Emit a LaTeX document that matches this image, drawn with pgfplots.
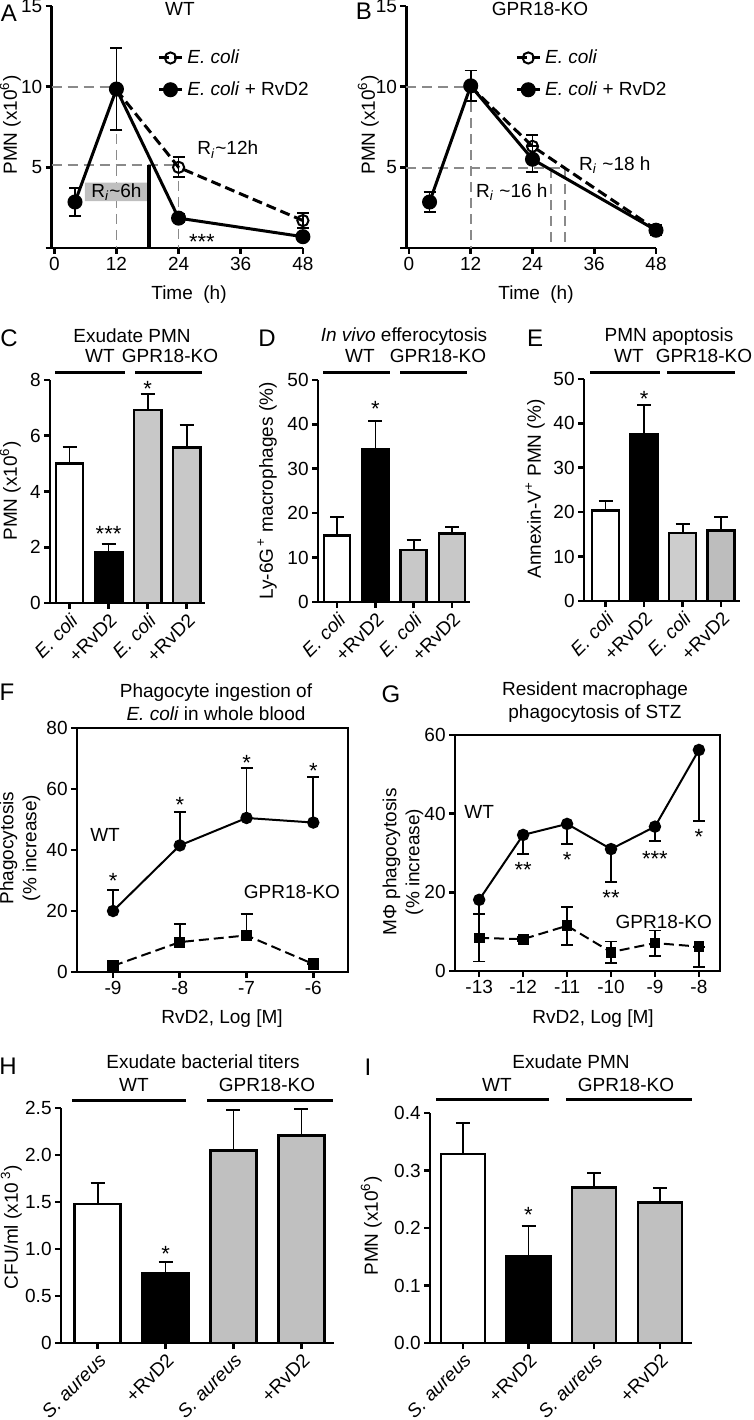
\documentclass[border=0pt]{standalone}
\usepackage{pgfplots}
\pgfplotsset{compat=1.18}
\usepackage{fontspec}
\setmainfont{Liberation Sans}
\definecolor{lg}{HTML}{C8C8C8}
\definecolor{lg2}{HTML}{CDCDCD}
\definecolor{mg}{HTML}{BDBDBD}
\definecolor{hg}{HTML}{C0C0C0}
\definecolor{refg}{HTML}{8A8A8A}
\definecolor{boxg}{HTML}{BFBFBF}
\pgfplotsset{
  every axis/.append style={
    scale only axis, anchor=south west,
    tick align=outside, major tick length=3pt,
    axis line style={line width=1.3pt},
    tick style={line width=1.3pt, black},
    tick label style={font=\fontsize{9.5}{11}\selectfont, inner sep=1.5pt},
    /pgf/number format/assume math mode=true,
    clip=false,
  },
  ebs/.style={/pgfplots/error bars/y explicit,
    /pgfplots/error bars/error bar style={line width=0.9pt, black, solid},
    /pgfplots/error bars/error mark options={rotate=90, line width=0.9pt, mark size=#1, black, solid}},
  refl/.style={refg, line width=0.9pt, dash pattern=on 5pt off 3pt},
  barax/.style={axis lines*=left, ybar, bar width=#1, bar shift=0pt, xtick={0,1,2,3},
    xticklabel style={rotate=45, anchor=north east, inner sep=1pt}},
  bb/.style={draw=black, line width=1.3pt, fill=#1, ebs=3.5pt, /pgfplots/error bars/y dir=plus},
  legstyle/.style={legend style={draw=none, fill=none, font=\fontsize{9.5}{11}\selectfont, row sep=3.5pt, inner sep=0pt, cells={anchor=west}},
    legend image code/.code={\draw[mark repeat=2,mark phase=2,##1] plot coordinates {(0cm,0cm) (0.2cm,0cm) (0.4cm,0cm)};}},
}
\begin{document}
\begin{tikzpicture}[x=0.5pt,y=0.5pt,
  t/.style={inner sep=0pt, font=\fontsize{9.5}{11}\selectfont, text height=6.8pt, text depth=0pt},
  tt/.style={inner sep=0pt, font=\fontsize{9.5}{11.5}\selectfont, align=center},
  pl/.style={inner sep=0pt, font=\fontsize{12}{14}\selectfont, text height=8.6pt, text depth=0pt},
  gl/.style={line width=1.5pt},
  st/.style={font=\fontsize{11}{11}\selectfont, inner sep=0pt, anchor=base, yshift=-5.4pt},
  ri/.style={inner sep=0pt, font=\fontsize{9.5}{11}\selectfont},
]
\useasboundingbox (0,0) rectangle (754,1420);

% ---------------- A ----------------
\begin{axis}[at={(25.85pt,586pt)}, width=125.6pt, height=121pt,
  xmin=-0.5, xmax=48, ymin=0, ymax=15, axis lines*=left,
  xtick={0,12,24,36,48}, ytick={0,5,10,15}, yticklabels={,5,10,15},
  legstyle, legend style={at={(0.42,0.838)}, anchor=north west}]
\addplot[forget plot, refl] coordinates {(-0.5,10) (12,10) (12,0)};
\addplot[forget plot, refl] coordinates {(-0.5,5.15) (24,5.15)};
\addplot[forget plot, refl] coordinates {(24,5.15) (24,0)};
\addplot[forget plot, fill=boxg, draw=none] coordinates {(5.9,2.9) (18,2.9) (18,4.05) (5.9,4.05) (5.9,2.9)};
\addplot[forget plot, black, line width=2pt] coordinates {(18.2,0) (18.2,5.15)};
\addplot[black, line width=1.5pt, dash pattern=on 5pt off 2.5pt, mark=o, mark size=2.8pt,
  mark options={solid, fill=white, line width=1pt}, ebs=3pt, /pgfplots/error bars/y dir=both]
  coordinates {(12,9.8) (24,5.0) +- (0,0.62) (48,1.7) +- (0,0.45)};
\addlegendentry{\textit{E. coli}}
\addplot[black, line width=1.5pt, mark=*, mark size=3pt, ebs=3pt, /pgfplots/error bars/y dir=both]
  coordinates {(4,2.85) +- (0,0.85) (12,9.85) +- (0,2.55) (24,1.85) +- (0,0.25) (48,0.7) +- (0,0.1)};
\addlegendentry{\textit{E. coli} + RvD2}
\node[ri] at (axis cs:12,3.45) {R\textsubscript{\textit{i}}\textasciitilde 6h};
\node[ri] at (axis cs:33.5,6.1) {R\textsubscript{\textit{i}}\textasciitilde 12h};
\node[st] at (axis cs:28.5,0.6) {***};
\end{axis}

% ---------------- B ----------------
\begin{axis}[at={(203.2pt,586pt)}, width=124.8pt, height=121pt,
  xmin=-0.5, xmax=48, ymin=0, ymax=15, axis lines*=left,
  xtick={0,12,24,36,48}, ytick={0,5,10,15}, yticklabels={,5,10,15},
  legstyle, legend style={at={(0.435,0.838)}, anchor=north west}]
\addplot[forget plot, refl] coordinates {(-0.5,10) (12,10) (12,0)};
\addplot[forget plot, refl] coordinates {(-0.5,4.95) (30.3,4.95)};
\addplot[forget plot, refl] coordinates {(27.6,4.95) (27.6,0)};
\addplot[forget plot, refl] coordinates {(30.3,4.95) (30.3,0)};
\addplot[black, line width=1.5pt, dash pattern=on 5pt off 2.5pt, mark=o, mark size=2.8pt,
  mark options={solid, fill=white, line width=1pt}, ebs=3pt, /pgfplots/error bars/y dir=both]
  coordinates {(12,10.0) (24,6.3) +- (0,0.7) (48,1.15) +- (0,0.3)};
\addlegendentry{\textit{E. coli}}
\addplot[black, line width=1.5pt, mark=*, mark size=3pt, ebs=3pt, /pgfplots/error bars/y dir=both]
  coordinates {(4,2.85) +- (0,0.6) (12,10.05) +- (0,0.95) (24,5.5) +- (0,0.8) (48,1.1) +- (0,0.3)};
\addlegendentry{\textit{E. coli} + RvD2}
\node[ri] at (axis cs:20,3.47) {R\textsubscript{\textit{i}} \textasciitilde 16 h};
\node[ri] at (axis cs:40,5.15) {R\textsubscript{\textit{i}} \textasciitilde 18 h};
\end{axis}

% ---------------- C ----------------
\begin{axis}[at={(25pt,408.5pt)}, width=77.5pt, height=111.5pt, barax=0.7,
  xmin=-0.5, xmax=3.47, ymin=0, ymax=8, ytick={0,2,4,6,8},
  xticklabels={\textit{E. coli},+RvD2,\textit{E. coli},+RvD2}]
\addplot[bb=white] coordinates {(0,5.0) +- (0,0.6)};
\addplot[bb=black] coordinates {(1,1.83) +- (0,0.3)};
\addplot[bb=lg] coordinates {(2,6.92) +- (0,0.58)};
\addplot[bb=lg] coordinates {(3,5.58) +- (0,0.8)};
\node[st] at (axis cs:1,2.6) {***};
\node[st] at (axis cs:2,7.8) {*};
\end{axis}

% ---------------- D ----------------
\begin{axis}[at={(159pt,409pt)}, width=76pt, height=111pt, barax=0.68,
  xmin=-0.5, xmax=3.47, ymin=0, ymax=50, ytick={0,10,20,30,40,50},
  xticklabels={\textit{E. coli},+RvD2,\textit{E. coli},+RvD2}]
\addplot[bb=white] coordinates {(0,15.0) +- (0,4.2)};
\addplot[bb=black] coordinates {(1,34.5) +- (0,6.2)};
\addplot[bb=lg] coordinates {(2,11.7) +- (0,2.2)};
\addplot[bb=lg] coordinates {(3,15.4) +- (0,1.5)};
\node[st] at (axis cs:1,44.2) {*};
\end{axis}

% ---------------- E ----------------
\begin{axis}[at={(292pt,409.5pt)}, width=78pt, height=111pt, barax=0.7,
  xmin=-0.56, xmax=3.49, ymin=0, ymax=50, ytick={0,10,20,30,40,50},
  xticklabels={\textit{E. coli},+RvD2,\textit{E. coli},+RvD2}]
\addplot[bb=white] coordinates {(0,20.4) +- (0,2.1)};
\addplot[bb=black] coordinates {(1,37.6) +- (0,6.6)};
\addplot[bb=lg2] coordinates {(2,15.3) +- (0,2.0)};
\addplot[bb=mg] coordinates {(3,15.9) +- (0,3.0)};
\node[st] at (axis cs:1,46.2) {*};
\end{axis}

% ---------------- F ----------------
\begin{axis}[at={(38.5pt,224pt)}, width=135.5pt, height=122pt,
  xmin=-9.54, xmax=-5.48, ymin=0, ymax=80,
  xtick={-9,-8,-7,-6}, xticklabels={-9,-8,-7,-6},
  ytick={0,20,40,60,80}, tick pos=left]
\addplot[black, line width=1pt, mark=*, mark size=2.6pt, ebs=3pt, /pgfplots/error bars/y dir=plus]
  coordinates {(-9,20) +- (0,7) (-8,41.5) +- (0,11) (-7,50.5) +- (0,16.5) (-6,49) +- (0,15)};
\addplot[black, line width=1pt, dash pattern=on 5pt off 2.5pt, mark=square*, mark size=2.3pt,
  mark options={solid}, ebs=3pt, /pgfplots/error bars/y dir=plus]
  coordinates {(-9,2) +- (0,1.6) (-8,9.8) +- (0,6) (-7,12) +- (0,7) (-6,2.6) +- (0,0)};
\node[st] at (axis cs:-9,30.8) {*};
\node[st] at (axis cs:-8,55.7) {*};
\node[st] at (axis cs:-7,69.5) {*};
\node[st] at (axis cs:-6,67) {*};
\node[t] at (axis cs:-9.12,44.9) {WT};
\node[t] at (axis cs:-6.32,26.2) {GPR18-KO};
\end{axis}

% ---------------- G ----------------
\begin{axis}[at={(227.5pt,224.5pt)}, width=132.5pt, height=118pt,
  xmin=-13.55, xmax=-7.52, ymin=0, ymax=60,
  xtick={-13,-12,-11,-10,-9,-8}, xticklabels={-13,-12,-11,-10,-9,-8},
  ytick={0,20,40,60}, tick pos=left]
\addplot[black, line width=1pt, mark=*, mark size=2.6pt, ebs=3pt, /pgfplots/error bars/y dir=minus]
  coordinates {(-13,18.1) +- (0,15.7) (-12,34.6) +- (0,4.8) (-11,37.4) +- (0,5.1) (-10,31.0) +- (0,8.4) (-9,36.7) +- (0,3.6) (-8,56.2) +- (0,18)};
\addplot[black, line width=1pt, dash pattern=on 5pt off 2.5pt, mark=square*, mark size=2.2pt,
  mark options={solid}, ebs=3pt, /pgfplots/error bars/y dir=both]
  coordinates {(-13,8.4) +- (0,6) (-12,8.1) +- (0,0.5) (-11,11.5) +- (0,4.8) (-10,4.8) +- (0,2.7) (-9,7.1) +- (0,3.2) (-8,6.2) += (0,0) -= (0,5.1)};
\node[st] at (axis cs:-12,26.5) {**};
\node[st] at (axis cs:-11,29) {*};
\node[st] at (axis cs:-10,19.3) {**};
\node[st] at (axis cs:-9,29.3) {***};
\node[st] at (axis cs:-8,34.9) {*};
\node[t] at (axis cs:-13,40.5) {WT};
\node[t] at (axis cs:-8.8,12.5) {GPR18-KO};
\end{axis}

% ---------------- H ----------------
\begin{axis}[at={(30.5pt,38.5pt)}, width=136.5pt, height=117.5pt, barax=0.68,
  xmin=-0.54, xmax=3.48, ymin=0, ymax=2.5,
  ytick={0,0.5,1,1.5,2,2.5}, yticklabels={0,0.5,1.0,1.5,2.0,2.5},
  xticklabels={\textit{S. aureus},+RvD2,\textit{S. aureus},+RvD2}]
\addplot[bb=white] coordinates {(0,1.48) +- (0,0.22)};
\addplot[bb=black] coordinates {(1,0.74) +- (0,0.12)};
\addplot[bb=hg] coordinates {(2,2.05) +- (0,0.43)};
\addplot[bb=hg] coordinates {(3,2.21) +- (0,0.28)};
\node[st] at (axis cs:1,0.98) {*};
\end{axis}

% ---------------- I ----------------
\begin{axis}[at={(215pt,38.5pt)}, width=131pt, height=115pt, barax=0.67,
  xmin=-0.5, xmax=3.49, ymin=0, ymax=0.4,
  ytick={0,0.1,0.2,0.3,0.4}, yticklabels={0.0,0.1,0.2,0.3,0.4},
  xticklabels={\textit{S. aureus},+RvD2,\textit{S. aureus},+RvD2}]
\addplot[bb=white] coordinates {(0,0.329) +- (0,0.054)};
\addplot[bb=black] coordinates {(1,0.150) +- (0,0.053)};
\addplot[bb=hg] coordinates {(2,0.270) +- (0,0.025)};
\addplot[bb=hg] coordinates {(3,0.244) +- (0,0.026)};
\node[st] at (axis cs:1,0.228) {*};
\end{axis}

% ---------------- text ----------------
\node[pl] at (9,1407) {A};
\node[pl] at (364,1409) {B};
\node[pl] at (9,1082) {C};
\node[pl] at (267,1082) {D};
\node[pl] at (535,1082) {E};
\node[pl] at (7,728) {F};
\node[pl] at (391,726) {G};
\node[pl] at (8,354) {H};
\node[pl] at (368,353) {I};

\node[t] at (180,1411) {WT};
\node[t] at (540,1411) {GPR18-KO};
\node[t, rotate=90] at (10,1295) {PMN (x10\textsuperscript{6})};
\node[t, rotate=90] at (368,1295) {PMN (x10\textsuperscript{6})};
\node[t] at (189,1127) {Time\ \ (h)};
\node[t] at (536,1127) {Time\ \ (h)};

\node[t] at (132,1084) {Exudate PMN};
\node[t] at (100,1064) {WT};
\node[t] at (170,1064) {GPR18-KO};
\draw[gl] (55,1047) -- (125,1047);
\draw[gl] (135,1047) -- (202,1047);
\node[t, rotate=90] at (10,929) {PMN (x10\textsuperscript{6})};

\node[t] at (404,1085) {\textit{In vivo} efferocytosis};
\node[t] at (360,1064) {WT};
\node[t] at (438,1064) {GPR18-KO};
\draw[gl] (323,1047) -- (390,1047);
\draw[gl] (400,1047) -- (467,1047);
\node[t, rotate=90] at (266,929) {Ly-6G\textsuperscript{\,+} macrophages (\%)};

\node[t] at (669,1085) {PMN apoptosis};
\node[t] at (629,1064) {WT};
\node[t] at (704,1064) {GPR18-KO};
\draw[gl] (590,1047) -- (660,1047);
\draw[gl] (667,1047) -- (735,1047);
\node[t, rotate=90] at (534,931) {Annexin-V\textsuperscript{+} PMN (\%)};

\node[tt] at (216,717.5) {Phagocyte ingestion of\\\textit{E. coli} in whole blood};
\node[tt] at (595,717.5) {Resident macrophage\\phagocytosis of STZ};
\node[tt, rotate=90] at (20,572) {Phagocytosis\\(\% increase)};
\node[tt, rotate=90] at (403,558) {MΦ phagocytosis\\(\% increase)};
\node[t] at (222,403) {RvD2, Log [M]};
\node[t] at (593,403) {RvD2, Log [M]};

\node[t] at (203,358) {Exudate bacterial titers};
\node[t] at (134,335) {WT};
\node[t] at (267,335) {GPR18-KO};
\draw[gl] (72,319) -- (186,319);
\draw[gl] (207,319) -- (333,319);
\node[t, rotate=90] at (11,193) {CFU/ml (x10\,\textsuperscript{3})};

\node[t] at (571,358) {Exudate PMN};
\node[t] at (497,335) {WT};
\node[t] at (626,335) {GPR18-KO};
\draw[gl] (436,320) -- (549,320);
\draw[gl] (566,320) -- (692,320);
\node[t, rotate=90] at (371,194) {PMN (x10\textsuperscript{6})};
\end{tikzpicture}
\end{document}
